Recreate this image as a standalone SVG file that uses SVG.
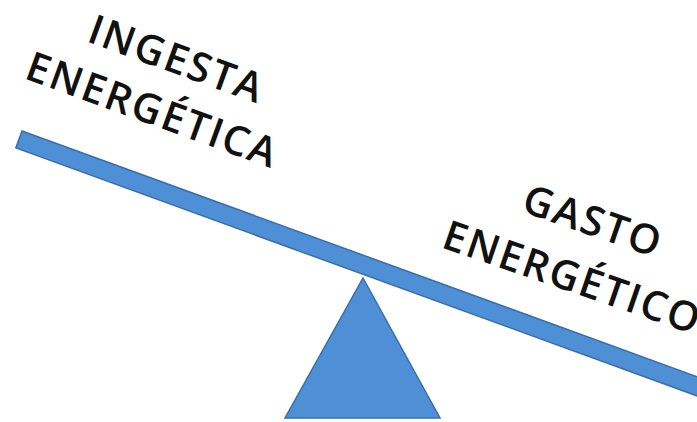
<svg xmlns="http://www.w3.org/2000/svg" width="697" height="422" viewBox="0 0 697 422">
  <style>
    .shape { fill: #4f8fd6; stroke: #3b6ea5; stroke-width: 1.5; stroke-linejoin: miter; }
    .lbl { font-family: "Open Sans", "Noto Sans", sans-serif; font-size: 41px; font-weight: 600; fill: #111111; letter-spacing: 2px; }
  </style>
  <rect width="697" height="422" fill="#ffffff"/>
  <g id="fulcrum">
    <polygon class="shape" points="363,278 440,418 285,418"/>
  </g>
  <g id="beam">
    <rect class="shape" x="0" y="0" width="760" height="18" transform="translate(22,131) rotate(20)"/>
  </g>
  <g id="ingesta" transform="translate(23,78) rotate(20)">
    <text class="lbl" x="46" y="-56">INGESTA</text>
    <text class="lbl" x="0" y="0">ENERGÉTICA</text>
  </g>
  <g id="gasto" transform="translate(440,247) rotate(19)">
    <text class="lbl" x="64" y="-60">GASTO</text>
    <text class="lbl" x="0" y="0">ENERGÉTICO</text>
  </g>
  <g id="connectors"/>
</svg>
